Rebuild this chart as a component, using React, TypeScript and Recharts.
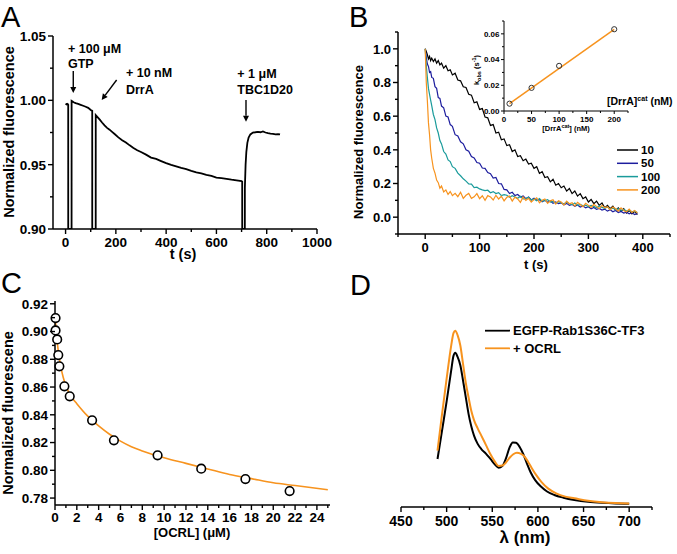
import React from 'react';
import { LineChart, Line, ComposedChart, Scatter, XAxis, YAxis, ReferenceLine, ReferenceDot } from 'recharts';

const FONT = '"Liberation Sans", Arial, Helvetica, sans-serif';
const ORANGE = '#f7931e';
const BLUE = '#1d1d9e';
const TEAL = '#1a9b9b';

// ---------- A: nucleotide exchange time course ----------
const A_T = [0, 4, 8, 10.5, 10.6, 23.9, 24, 28, 32, 40, 50, 60, 70, 80, 90, 100, 106, 106.1, 119.9, 120, 128, 136, 145, 155, 165, 175, 185, 195, 210, 225, 240, 255, 270, 285, 300, 320, 340, 360, 380, 400, 420, 440, 460, 480, 500, 520, 540, 560, 580, 600, 620, 640, 660, 680, 700, 702.5, 702.6, 713, 713.1, 716, 719, 723, 728, 735, 745, 755, 765, 775, 785, 795, 805, 815, 825, 835, 845, 853];
const A_V = [0.9975, 0.9968, 0.9972, 0.9965, 0.9, 0.9, 0.9995, 0.999, 0.9985, 0.9978, 0.9972, 0.9965, 0.9958, 0.995, 0.9942, 0.9925, 0.9918, 0.9, 0.9, 0.9885, 0.9868, 0.985, 0.9828, 0.9805, 0.9786, 0.9772, 0.9755, 0.9738, 0.9712, 0.969, 0.9672, 0.965, 0.963, 0.9612, 0.9598, 0.9578, 0.9555, 0.9545, 0.9528, 0.9512, 0.9498, 0.9487, 0.9475, 0.9465, 0.9452, 0.944, 0.9432, 0.942, 0.9412, 0.94, 0.9395, 0.939, 0.9383, 0.9378, 0.9372, 0.9368, 0.9, 0.9, 0.932, 0.95, 0.96, 0.967, 0.971, 0.9735, 0.975, 0.9752, 0.9755, 0.9752, 0.9758, 0.975, 0.9745, 0.9742, 0.974, 0.9735, 0.9738, 0.9735];
const A_X_TICKS = [0, 100, 200, 300, 400, 500, 600, 700, 800, 900, 1000];
const A_Y_TICKS = [0.9, 0.925, 0.95, 0.975, 1.0, 1.025, 1.05];
const A_NOTES = [
  { t: 9.5, v: 1.0368, text: '+ 100 μM' },
  { t: 9.5, v: 1.0251, text: 'GTP' },
  { t: 240, v: 1.0181, text: '+ 10 nM' },
  { t: 240, v: 1.0049, text: 'DrrA' },
  { t: 683, v: 1.0174, text: '+ 1 μM' },
  { t: 683, v: 1.0049, text: 'TBC1D20' },
];
const A_ARROWS = [
  { t1: 30.6, v1: 1.0228, t2: 30.6, v2: 1.0057 },
  { t1: 203, v1: 1.0158, t2: 143.6, v2: 1.0003 },
  { t1: 717.6, v1: 1.0003, t2: 717.6, v2: 0.9834 },
];

// ---------- B: DrrA titration ----------
const B_T = [0, 2, 4, 6, 8, 10, 12, 15, 18, 21, 24, 27, 30, 34, 38, 42, 46, 50, 55, 60, 65, 70, 75, 80, 85, 90, 95, 100, 105, 110, 115, 120, 125, 130, 135, 140, 145, 150, 155, 160, 165, 170, 175, 180, 185, 190, 195, 200, 205, 210, 215, 220, 225, 230, 235, 240, 245, 250, 255, 260, 265, 270, 275, 280, 285, 290, 295, 300, 305, 310, 315, 320, 325, 330, 335, 340, 345, 350, 355, 360, 365, 370, 375, 380, 385, 390];
const B_10 = [1.0, 0.985, 0.965, 0.94, 0.955, 0.93, 0.945, 0.925, 0.94, 0.915, 0.93, 0.905, 0.915, 0.885, 0.9, 0.87, 0.875, 0.845, 0.855, 0.815, 0.81, 0.775, 0.77, 0.73, 0.725, 0.68, 0.685, 0.64, 0.645, 0.595, 0.59, 0.545, 0.55, 0.5, 0.505, 0.46, 0.465, 0.425, 0.43, 0.39, 0.4, 0.36, 0.365, 0.335, 0.345, 0.315, 0.32, 0.29, 0.3, 0.26, 0.27, 0.235, 0.24, 0.21, 0.225, 0.19, 0.2, 0.175, 0.185, 0.155, 0.17, 0.14, 0.155, 0.125, 0.14, 0.11, 0.12, 0.09, 0.105, 0.08, 0.095, 0.07, 0.085, 0.055, 0.07, 0.05, 0.065, 0.04, 0.055, 0.035, 0.05, 0.025, 0.04, 0.02, 0.035, 0.015];
const B_50 = [1.0, 0.95, 0.91, 0.895, 0.86, 0.865, 0.83, 0.825, 0.775, 0.765, 0.71, 0.705, 0.66, 0.65, 0.6, 0.595, 0.55, 0.54, 0.49, 0.482, 0.448, 0.436, 0.4, 0.392, 0.36, 0.352, 0.325, 0.32, 0.292, 0.29, 0.265, 0.258, 0.232, 0.236, 0.2, 0.198, 0.165, 0.162, 0.14, 0.148, 0.128, 0.135, 0.12, 0.126, 0.11, 0.12, 0.102, 0.112, 0.1, 0.104, 0.092, 0.1, 0.088, 0.096, 0.082, 0.09, 0.08, 0.085, 0.074, 0.082, 0.07, 0.076, 0.064, 0.072, 0.06, 0.066, 0.056, 0.062, 0.05, 0.058, 0.046, 0.052, 0.042, 0.048, 0.036, 0.044, 0.032, 0.04, 0.028, 0.034, 0.024, 0.03, 0.02, 0.026, 0.016, 0.022];
const B_100 = [1.0, 0.9, 0.83, 0.765, 0.73, 0.695, 0.662, 0.61, 0.58, 0.53, 0.5, 0.455, 0.435, 0.39, 0.375, 0.34, 0.33, 0.3, 0.29, 0.262, 0.246, 0.228, 0.214, 0.198, 0.196, 0.176, 0.178, 0.168, 0.162, 0.158, 0.16, 0.145, 0.152, 0.14, 0.146, 0.128, 0.134, 0.13, 0.118, 0.128, 0.12, 0.112, 0.124, 0.108, 0.11, 0.118, 0.102, 0.108, 0.098, 0.11, 0.095, 0.098, 0.104, 0.09, 0.094, 0.082, 0.092, 0.086, 0.078, 0.09, 0.08, 0.074, 0.084, 0.07, 0.076, 0.068, 0.072, 0.062, 0.07, 0.064, 0.056, 0.066, 0.058, 0.052, 0.06, 0.048, 0.054, 0.044, 0.05, 0.04, 0.046, 0.036, 0.042, 0.032, 0.036, 0.028];
const B_200 = [1.0, 0.8, 0.69, 0.56, 0.49, 0.4, 0.35, 0.29, 0.262, 0.22, 0.205, 0.172, 0.185, 0.15, 0.162, 0.135, 0.152, 0.128, 0.142, 0.122, 0.148, 0.112, 0.13, 0.141, 0.112, 0.121, 0.14, 0.11, 0.127, 0.1, 0.128, 0.12, 0.102, 0.13, 0.108, 0.124, 0.097, 0.118, 0.125, 0.096, 0.119, 0.108, 0.088, 0.12, 0.1, 0.112, 0.09, 0.104, 0.115, 0.086, 0.1, 0.108, 0.082, 0.097, 0.104, 0.078, 0.098, 0.09, 0.072, 0.095, 0.08, 0.086, 0.066, 0.088, 0.075, 0.062, 0.082, 0.07, 0.058, 0.076, 0.064, 0.05, 0.07, 0.055, 0.062, 0.045, 0.06, 0.05, 0.036, 0.055, 0.04, 0.032, 0.048, 0.028, 0.04, 0.025];
const B_NAMES = ['10', '50', '100', '200'];
const B_KEYS = ['c10', 'c50', 'c100', 'c200'];
const B_COLORS = ['#000000', BLUE, TEAL, ORANGE];
const B_X_TICKS = [-50, 0, 50, 100, 150, 200, 250, 300, 350, 400, 450];
const B_Y_TICKS = [-0.1, 0, 0.1, 0.2, 0.3, 0.4, 0.5, 0.6, 0.7, 0.8, 0.9, 1.0, 1.1];

// inset: kobs vs [DrrA cat]
const IN_CONC = [10, 50, 100, 200];
const IN_KOBS = [0.0057, 0.018, 0.0351, 0.0636];
const IN_FIT_X = [10, 200];
const IN_FIT_Y = [0.0057, 0.0634];
const IN_X_TICKS = [0, 25, 50, 75, 100, 125, 150, 175, 200, 225];
const IN_Y_TICKS = [0, 0.01, 0.02, 0.03, 0.04, 0.05, 0.06, 0.07];

// ---------- C: OCRL titration ----------
const C_CONC = [0.05, 0.05, 0.2, 0.3, 0.4, 0.86, 1.35, 3.4, 5.4, 9.4, 13.4, 17.45, 21.5];
const C_FL = [0.9097, 0.9008, 0.8943, 0.883, 0.8749, 0.8605, 0.8533, 0.836, 0.8216, 0.8108, 0.8012, 0.7937, 0.785];
const C_FIT_X = [0, 0.1, 0.2, 0.3, 0.5, 0.75, 1, 1.5, 2, 3, 4, 5, 6, 7, 8, 10, 12, 14, 16, 18, 20, 22, 25];
const C_FIT_Y = [0.912, 0.902, 0.893, 0.886, 0.876, 0.867, 0.861, 0.853, 0.848, 0.839, 0.832, 0.826, 0.821, 0.817, 0.814, 0.809, 0.805, 0.801, 0.797, 0.794, 0.791, 0.789, 0.786];
const C_X_TICKS = [0, 1, 2, 3, 4, 5, 6, 7, 8, 9, 10, 11, 12, 13, 14, 15, 16, 17, 18, 19, 20, 21, 22, 23, 24, 25];
const C_Y_TICKS = [0.78, 0.79, 0.8, 0.81, 0.82, 0.83, 0.84, 0.85, 0.86, 0.87, 0.88, 0.89, 0.9, 0.91, 0.92];

// ---------- D: emission spectra (a.u.) ----------
const D_L_BLACK = [490, 495, 500, 505, 507.5, 509.5, 512, 515, 518, 521, 524, 527, 530, 534, 538, 543, 548, 553, 557, 561, 565, 569, 572.5, 576, 580, 584, 588, 592, 597, 603, 610, 618, 628, 640, 655, 670, 685, 700];
const D_BLACK = [0.232, 0.37, 0.51, 0.66, 0.73, 0.745, 0.725, 0.685, 0.61, 0.53, 0.45, 0.39, 0.345, 0.305, 0.28, 0.258, 0.232, 0.205, 0.19, 0.198, 0.235, 0.288, 0.312, 0.31, 0.29, 0.255, 0.21, 0.168, 0.13, 0.1, 0.075, 0.058, 0.045, 0.034, 0.025, 0.02, 0.017, 0.016];
const D_L_OCRL = [490, 495, 500, 505, 507.5, 509.5, 512, 515, 518, 521, 524, 527, 530, 534, 538, 543, 548, 553, 557, 561, 565, 569, 573, 577, 581, 585, 589, 593, 598, 604, 611, 620, 630, 640, 655, 670, 685, 700];
const D_OCRL = [0.272, 0.45, 0.62, 0.78, 0.84, 0.852, 0.83, 0.78, 0.69, 0.6, 0.53, 0.465, 0.42, 0.38, 0.345, 0.3, 0.255, 0.218, 0.198, 0.2, 0.215, 0.238, 0.255, 0.262, 0.258, 0.245, 0.22, 0.19, 0.155, 0.12, 0.09, 0.066, 0.05, 0.042, 0.03, 0.023, 0.019, 0.017];
const D_NAMES = ['EGFP-Rab1S36C-TF3', '+ OCRL'];
const D_COLORS = ['#000000', ORANGE];
const D_X_TICKS = [450, 475, 500, 525, 550, 575, 600, 625, 650, 675, 700, 725];

type TickOpt = { step: number; digits: number; fs: number; len: number; minor: number; gap: number; sw: number; base?: number };

const isMajor = (v: number, step: number) => Math.abs(v / step - Math.round(v / step)) < 1e-6;

const leftTick = (o: TickOpt) => (p: any) => {
  const { x, y, payload } = p;
  const v = Number(payload.value);
  const maj = isMajor(v, o.step);
  return (
    <g>
      <line x1={x} y1={y} x2={x - (maj ? o.len : o.minor)} y2={y} stroke="#000" strokeWidth={o.sw} />
      {maj && (
        <text x={x - o.len - o.gap} y={y} dy="0.36em" textAnchor="end" fontFamily={FONT} fontWeight="bold" fontSize={o.fs} fill="#000">
          {v.toFixed(o.digits)}
        </text>
      )}
    </g>
  );
};

const bottomTick = (o: TickOpt) => (p: any) => {
  const { x, y, payload } = p;
  const v = Number(payload.value);
  const maj = isMajor(v, o.step);
  return (
    <g>
      <line x1={x} y1={y} x2={x} y2={y + (maj ? o.len : o.minor)} stroke="#000" strokeWidth={o.sw} />
      {maj && (
        <text x={x} y={y + (o.base ?? 17)} textAnchor="middle" fontFamily={FONT} fontWeight="bold" fontSize={o.fs} fill="#000">
          {v.toFixed(o.digits)}
        </text>
      )}
    </g>
  );
};

const Arrow = (p: any) => {
  const { x1, y1, x2, y2 } = p;
  const ang = Math.atan2(y2 - y1, x2 - x1);
  const h = 6;
  const w = 3;
  const bx = x2 - h * Math.cos(ang);
  const by = y2 - h * Math.sin(ang);
  const px = -Math.sin(ang) * w;
  const py = Math.cos(ang) * w;
  return (
    <g>
      <line x1={x1} y1={y1} x2={bx} y2={by} stroke="#000" strokeWidth={1.4} />
      <polygon points={`${x2},${y2} ${bx + px},${by + py} ${bx - px},${by - py}`} fill="#000" />
    </g>
  );
};

const note = (text: string) => (p: any) => (
  <text x={p.cx} y={p.cy} fontFamily={FONT} fontWeight="bold" fontSize={12.5} fill="#000">{text}</text>
);

const axisStyle = { stroke: '#000', strokeWidth: 1.5 };
const abs = (left: number, top: number): React.CSSProperties => ({ position: 'absolute', left, top });

const T = (props: any) => <text fontFamily={FONT} fontWeight="bold" fill="#000" {...props} />;
const VTitle = ({ x, y, size, children }: any) => (
  <T x={x} y={y} dy="0.36em" fontSize={size} textAnchor="middle" transform={`rotate(-90 ${x} ${y})`}>{children}</T>
);

export default function App() {
  const aData = A_T.map((t, i) => ({ t, v: A_V[i] }));
  const bData = B_T.map((t, i) => ({ t, c10: B_10[i], c50: B_50[i], c100: B_100[i], c200: B_200[i] }));
  const inPts = IN_CONC.map((x, i) => ({ x, v: IN_KOBS[i] }));
  const inFit = IN_FIT_X.map((x, i) => ({ x, v: IN_FIT_Y[i] }));
  const cPts = C_CONC.map((x, i) => ({ x, v: C_FL[i] }));
  const cFit = C_FIT_X.map((x, i) => ({ x, v: C_FIT_Y[i] }));
  const dBlack = D_L_BLACK.map((x, i) => ({ x, v: D_BLACK[i] }));
  const dOcrl = D_L_OCRL.map((x, i) => ({ x, v: D_OCRL[i] }));

  return (
    <div style={{ position: 'absolute', left: 0, top: 0, width: 677, height: 554, background: '#fff', overflow: 'hidden' }}>
      {/* A */}
      <div style={abs(0, 0)}>
        <LineChart width={340} height={280} data={aData} margin={{ top: 36, right: 23, bottom: 0, left: 0 }}>
          <XAxis dataKey="t" type="number" domain={[-50, 1000]} ticks={A_X_TICKS} interval={0} allowDataOverflow
            height={51} tickSize={0} tickMargin={0} tickLine={false} axisLine={axisStyle}
            tick={bottomTick({ step: 200, digits: 0, fs: 13.5, len: 5, minor: 3, gap: 2, sw: 1.4, base: 18 })} />
          <YAxis type="number" domain={[0.9, 1.05]} ticks={A_Y_TICKS} interval={0} allowDataOverflow
            width={53} tickSize={0} tickMargin={0} tickLine={false} axisLine={axisStyle}
            tick={leftTick({ step: 0.05, digits: 2, fs: 13.5, len: 5, minor: 3, gap: 2, sw: 1.4 })} />
          <Line dataKey="v" type="linear" stroke="#000" strokeWidth={1.8} dot={false} activeDot={false} isAnimationActive={false} />
          {A_ARROWS.map((a, i) => (
            <ReferenceLine key={`ar${i}`} segment={[{ x: a.t1, y: a.v1 }, { x: a.t2, y: a.v2 }]} shape={Arrow} />
          ))}
          {A_NOTES.map((n, i) => (
            <ReferenceDot key={`n${i}`} x={n.t} y={n.v} r={0} shape={note(n.text)} />
          ))}
        </LineChart>
      </div>

      {/* B */}
      <div style={abs(340, 0)}>
        <LineChart width={337} height={280} data={bData} margin={{ top: 32, right: 7, bottom: 0, left: 0 }}>
          <XAxis dataKey="t" type="number" domain={[-50, 450]} ticks={B_X_TICKS} interval={0} allowDataOverflow
            height={46} tickSize={0} tickMargin={0} tickLine={false} axisLine={axisStyle}
            tick={bottomTick({ step: 100, digits: 0, fs: 13, len: 5, minor: 3, gap: 2, sw: 1.4, base: 18 })} />
          <YAxis type="number" domain={[-0.1, 1.1]} ticks={B_Y_TICKS} interval={0} allowDataOverflow
            width={58} tickSize={0} tickMargin={0} tickLine={false} axisLine={axisStyle}
            tick={leftTick({ step: 0.2, digits: 1, fs: 13, len: 5, minor: 3, gap: 2, sw: 1.4 })} />
          {B_KEYS.map((k, i) => (
            <Line key={k} dataKey={k} type="linear" stroke={B_COLORS[i]} strokeWidth={1.2} dot={false} activeDot={false} isAnimationActive={false} />
          ))}
        </LineChart>
      </div>

      {/* B inset */}
      <div style={abs(470, 10)}>
        <ComposedChart width={170} height={130} margin={{ top: 11, right: 12, bottom: 0, left: 0 }}>
          <XAxis dataKey="x" type="number" domain={[0, 225]} ticks={IN_X_TICKS} interval={0}
            height={29} tickSize={0} tickMargin={0} tickLine={false} axisLine={{ stroke: '#000', strokeWidth: 1 }}
            tick={bottomTick({ step: 50, digits: 0, fs: 8, len: 3, minor: 2, gap: 1, sw: 1, base: 11 })} />
          <YAxis dataKey="v" type="number" domain={[0, 0.07]} ticks={IN_Y_TICKS} interval={0}
            width={34} tickSize={0} tickMargin={0} tickLine={false} axisLine={{ stroke: '#000', strokeWidth: 1 }}
            tick={leftTick({ step: 0.02, digits: 2, fs: 8, len: 3, minor: 2, gap: 1.5, sw: 1 })} />
          <Line data={inFit} dataKey="v" type="linear" stroke={ORANGE} strokeWidth={1.5} dot={false} activeDot={false} isAnimationActive={false} />
          <Scatter data={inPts} dataKey="v" isAnimationActive={false}
            shape={(p: any) => <circle cx={p.cx} cy={p.cy} r={2.6} fill="none" stroke="#333" strokeWidth={1} />} />
        </ComposedChart>
      </div>

      {/* C */}
      <div style={abs(0, 280)}>
        <ComposedChart width={340} height={274} margin={{ top: 21, right: 10, bottom: 0, left: 0 }}>
          <XAxis dataKey="x" type="number" domain={[0, 25.2]} ticks={C_X_TICKS} interval={0}
            height={49} tickSize={0} tickMargin={0} tickLine={false} axisLine={axisStyle}
            tick={bottomTick({ step: 2, digits: 0, fs: 13.5, len: 5, minor: 3, gap: 2, sw: 1.4, base: 16.5 })} />
          <YAxis dataKey="v" type="number" domain={[0.775, 0.922]} ticks={C_Y_TICKS} interval={0}
            width={55} tickSize={0} tickMargin={0} tickLine={false} axisLine={axisStyle}
            tick={leftTick({ step: 0.02, digits: 2, fs: 13.5, len: 5, minor: 3, gap: 2, sw: 1.4 })} />
          <Line data={cFit} dataKey="v" type="monotone" stroke={ORANGE} strokeWidth={1.6} dot={false} activeDot={false} isAnimationActive={false} />
          <Scatter data={cPts} dataKey="v" isAnimationActive={false}
            shape={(p: any) => <circle cx={p.cx} cy={p.cy} r={4.3} fill="#fff" stroke="#000" strokeWidth={1.6} />} />
        </ComposedChart>
      </div>

      {/* D */}
      <div style={abs(340, 280)}>
        <LineChart width={337} height={274} margin={{ top: 20, right: 25, bottom: 0, left: 61 }}>
          <XAxis dataKey="x" type="number" domain={[450, 725]} ticks={D_X_TICKS} interval={0} allowDataOverflow
            height={47} tickSize={0} tickMargin={0} tickLine={false} axisLine={axisStyle}
            tick={bottomTick({ step: 50, digits: 0, fs: 14, len: 5, minor: 3, gap: 2, sw: 1.4, base: 19 })} />
          <YAxis hide type="number" domain={[0, 1]} allowDataOverflow />
          <Line data={dBlack} dataKey="v" type="monotone" stroke={D_COLORS[0]} strokeWidth={2} dot={false} activeDot={false} isAnimationActive={false} />
          <Line data={dOcrl} dataKey="v" type="monotone" stroke={D_COLORS[1]} strokeWidth={2} dot={false} activeDot={false} isAnimationActive={false} />
        </LineChart>
      </div>

      {/* text overlay: panel letters, titles, legends */}
      <svg width={677} height={554} style={{ position: 'absolute', left: 0, top: 0, pointerEvents: 'none' }}>
        <text x={1} y={27} fontFamily={FONT} fontSize={29} fill="#000">A</text>
        <text x={349} y={27} fontFamily={FONT} fontSize={29} fill="#000">B</text>
        <text x={1} y={293} fontFamily={FONT} fontSize={29} fill="#000">C</text>
        <text x={350} y={295} fontFamily={FONT} fontSize={29} fill="#000">D</text>

        <VTitle x={9} y={132} size={14.5}>Normalized fluorescence</VTitle>
        <T x={183} y={259} fontSize={14.5} textAnchor="middle">t (s)</T>

        <VTitle x={358.5} y={142} size={13}>Normalized fluorescence</VTitle>
        <T x={536} y={269} fontSize={13} textAnchor="middle">t (s)</T>

        <T x={476.7} y={70} dy="0.36em" fontSize={7.5} textAnchor="middle" transform="rotate(-90 476.7 70)">
          k<tspan dy={2} fontSize={5.5}>obs</tspan><tspan dy={-2}> (s</tspan><tspan dy={-3} fontSize={5.5}>-1</tspan><tspan dy={3}>)</tspan>
        </T>
        <T x={566} y={131} fontSize={7.5} textAnchor="middle">
          [DrrA<tspan dy={-3} fontSize={5.5}>cat</tspan><tspan dy={3}>] (nM)</tspan>
        </T>

        <T x={607} y={105} fontSize={10.5}>
          [DrrA]<tspan dy={-4} fontSize={7}>cat</tspan><tspan dy={4}> (nM)</tspan>
        </T>
        {B_NAMES.map((n, i) => (
          <g key={n}>
            <line x1={617} x2={638} y1={150 + i * 13.3} y2={150 + i * 13.3} stroke={B_COLORS[i]} strokeWidth={1.5} />
            <T x={641} y={150 + i * 13.3 + 4} fontSize={11.5}>{n}</T>
          </g>
        ))}

        <VTitle x={8} y={413} size={14.5}>Normalized fluorescene</VTitle>
        <T x={192} y={537} fontSize={13} textAnchor="middle">[OCRL] (μM)</T>

        <T x={525} y={543} fontSize={17} textAnchor="middle">λ (nm)</T>
        {D_NAMES.map((n, i) => (
          <g key={n}>
            <line x1={485} x2={510} y1={330.7 + i * 17.6} y2={330.7 + i * 17.6} stroke={D_COLORS[i]} strokeWidth={1.8} />
            <T x={513} y={330.7 + i * 17.6 + 4.7} fontSize={13}>{n}</T>
          </g>
        ))}
      </svg>
    </div>
  );
}
